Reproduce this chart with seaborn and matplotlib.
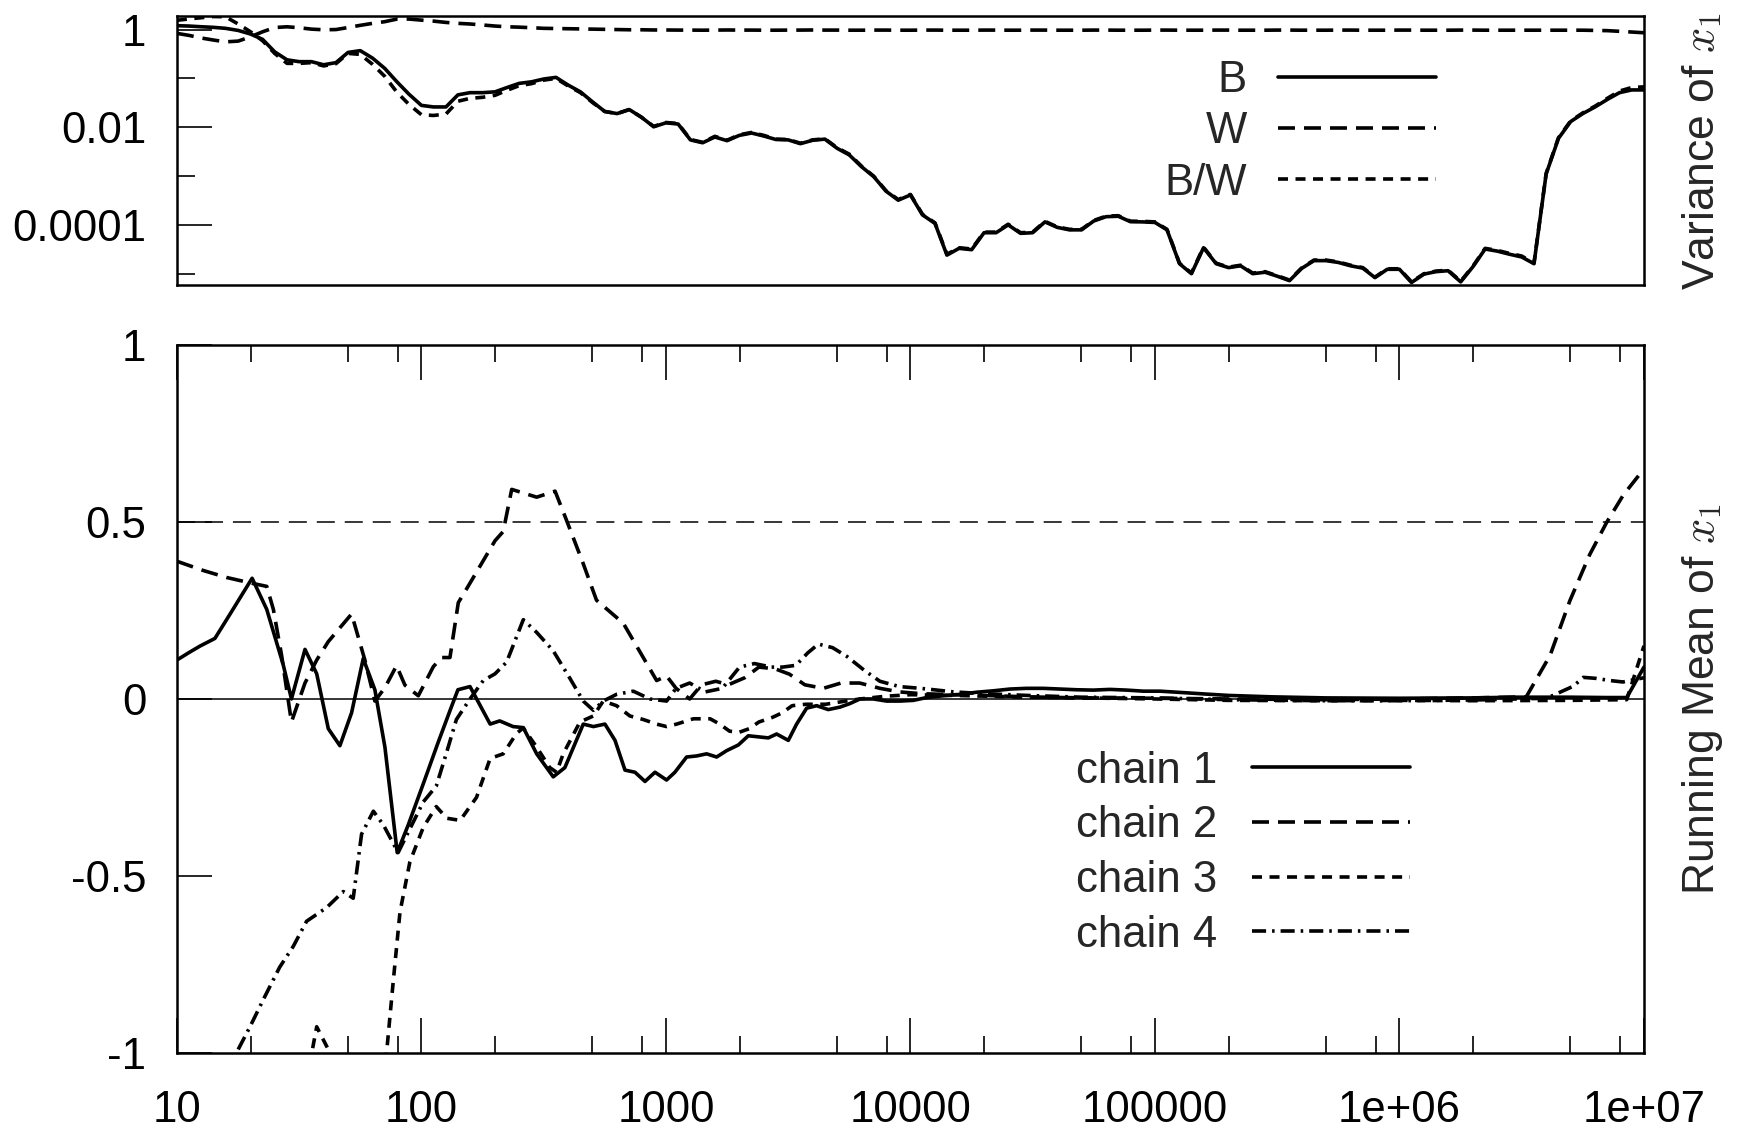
import matplotlib
matplotlib.use("Agg")
import matplotlib.pyplot as plt
import seaborn as sns
from matplotlib.ticker import LogLocator, NullFormatter

# sampling steps of the running statistics (20 per decade)
steps = [
    10, 11.2, 12.6, 14.1, 15.8, 17.8, 20.0, 22.4, 25.1, 28.2, 31.6, 35.5, 39.8, 44.7, 50.1, 56.2, 63.1, 70.8, 79.4, 89.1,
    100, 112, 126, 141, 158, 178, 200, 224, 251, 282, 316, 355, 398, 447, 501, 562, 631, 708, 794, 891,
    1000, 1122, 1259, 1413, 1585, 1778, 1995, 2239, 2512, 2818, 3162, 3548, 3981, 4467, 5012, 5623, 6310, 7079, 7943, 8913,
    1.00e4, 1.12e4, 1.26e4, 1.41e4, 1.58e4, 1.78e4, 2.00e4, 2.24e4, 2.51e4, 2.82e4,
    3.16e4, 3.55e4, 3.98e4, 4.47e4, 5.01e4, 5.62e4, 6.31e4, 7.08e4, 7.94e4, 8.91e4,
    1.00e5, 1.12e5, 1.26e5, 1.41e5, 1.58e5, 1.78e5, 2.00e5, 2.24e5, 2.51e5, 2.82e5,
    3.16e5, 3.55e5, 3.98e5, 4.47e5, 5.01e5, 5.62e5, 6.31e5, 7.08e5, 7.94e5, 8.91e5,
    1.00e6, 1.12e6, 1.26e6, 1.41e6, 1.58e6, 1.78e6, 2.00e6, 2.24e6, 2.51e6, 2.82e6,
    3.16e6, 3.55e6, 3.98e6, 4.47e6, 5.01e6, 5.62e6, 6.31e6, 7.08e6, 7.94e6, 8.91e6,
    1.00e7,
]

var_b = [
    1.2, 1.18, 1.14, 1.11, 1.06, 0.96, 0.81, 0.63, 0.35, 0.24, 0.22, 0.22, 0.19, 0.21, 0.34, 0.37, 0.26, 0.16, 0.085, 0.047,
    0.028, 0.026, 0.026, 0.046, 0.051, 0.051, 0.053, 0.065, 0.079, 0.085, 0.097, 0.105, 0.073, 0.053, 0.033, 0.021, 0.019, 0.023, 0.016, 0.0102,
    0.0123, 0.0116, 0.0055, 0.0048, 0.0063, 0.0053, 0.0068, 0.0076, 0.0066, 0.0056, 0.0055, 0.0046, 0.0054, 0.0057, 0.0037, 0.0027, 0.00155, 0.00097, 0.00049, 0.00032,
    4.1e-4, 1.6e-4, 1.07e-4, 2.4e-5, 3.3e-5, 3.1e-5, 6.9e-5, 6.9e-5, 1.0e-4, 6.7e-5, 6.9e-5, 1.15e-4, 8.9e-5, 7.9e-5, 7.9e-5, 1.2e-4, 1.47e-4, 1.5e-4, 1.16e-4, 1.15e-4,
    1.12e-4, 7.9e-5, 1.6e-5, 1.0e-5, 3.4e-5, 1.6e-5, 1.33e-5, 1.45e-5, 1.0e-5, 1.07e-5, 8.9e-6, 7.2e-6, 1.28e-5, 1.85e-5, 1.85e-5, 1.7e-5, 1.45e-5, 1.3e-5, 8.3e-6, 1.23e-5,
    1.23e-5, 6.6e-6, 9.8e-6, 1.1e-5, 1.15e-5, 6.8e-6, 1.4e-5, 3.2e-5, 2.9e-5, 2.5e-5, 2.2e-5, 1.6e-5, 1.1e-3, 5.9e-3, 0.013, 0.019, 0.026, 0.037, 0.051, 0.058,
    0.058,
]

var_w = [
    0.835, 0.76, 0.67, 0.61, 0.56, 0.58, 0.71, 0.90, 1.10, 1.14, 1.09, 1.02, 0.99, 1.0, 1.1, 1.22, 1.34, 1.45, 1.64, 1.64,
    1.56, 1.49, 1.40, 1.34, 1.30, 1.24, 1.18, 1.14, 1.12, 1.09, 1.06, 1.05, 1.04, 1.03, 1.02, 1.01, 1.0, 0.99, 0.99, 0.98,
    0.98, 0.975, 0.975, 0.97, 0.975, 0.98, 0.975, 0.975, 0.97, 0.97, 0.975, 0.975, 0.98, 0.975, 0.975, 0.97, 0.97, 0.975, 0.975, 0.97,
    0.97, 0.975, 0.975, 0.97, 0.97, 0.97, 0.975, 0.975, 0.97, 0.97, 0.975, 0.975, 0.97, 0.97, 0.97, 0.975, 0.975, 0.97, 0.97, 0.97,
    0.975, 0.975, 0.97, 0.97, 0.97, 0.975, 0.975, 0.97, 0.97, 0.97, 0.975, 0.975, 0.97, 0.97, 0.97, 0.975, 0.975, 0.97, 0.97, 0.97,
    0.975, 0.975, 0.97, 0.97, 0.97, 0.975, 0.975, 0.97, 0.97, 0.97, 0.97, 0.97, 0.97, 0.97, 0.97, 0.97, 0.96, 0.95, 0.92, 0.89,
    0.86,
]

var_bw = [
    1.55, 1.65, 1.75, 1.85, 1.83, 1.30, 0.90, 0.59, 0.325, 0.203, 0.203, 0.21, 0.18, 0.20, 0.325, 0.31, 0.194, 0.11, 0.052, 0.029,
    0.018, 0.0174, 0.0186, 0.034, 0.039, 0.041, 0.045, 0.057, 0.071, 0.078, 0.092, 0.1, 0.07, 0.051, 0.032, 0.021, 0.019, 0.023, 0.016, 0.0104,
    0.0125, 0.0119, 0.0056, 0.0049, 0.0065, 0.0054, 0.0070, 0.0078, 0.0068, 0.0057, 0.0056, 0.0047, 0.0055, 0.0058, 0.0038, 0.0028, 0.00159, 0.00099, 0.0005, 0.00033,
    4.2e-4, 1.64e-4, 1.1e-4, 2.5e-5, 3.4e-5, 3.2e-5, 7.1e-5, 7.1e-5, 1.03e-4, 6.9e-5, 7.1e-5, 1.18e-4, 9.1e-5, 8.1e-5, 8.1e-5, 1.23e-4, 1.51e-4, 1.54e-4, 1.19e-4, 1.18e-4,
    1.15e-4, 8.1e-5, 1.64e-5, 1.03e-5, 3.5e-5, 1.64e-5, 1.36e-5, 1.49e-5, 1.03e-5, 1.1e-5, 9.1e-6, 7.4e-6, 1.31e-5, 1.9e-5, 1.9e-5, 1.74e-5, 1.49e-5, 1.33e-5, 8.5e-6, 1.26e-5,
    1.26e-5, 6.8e-6, 1.0e-5, 1.13e-5, 1.18e-5, 7.0e-6, 1.44e-5, 3.3e-5, 3.0e-5, 2.6e-5, 2.3e-5, 1.65e-5, 1.13e-3, 6.1e-3, 0.0134, 0.0196, 0.027, 0.039, 0.055, 0.065,
    0.067,
]

chain1_x = [10.0, 11.2, 12.4, 14.3, 16.5, 20.3, 23.3, 27.2, 29.4, 33.4, 37.3, 41.6, 46.4, 51.8, 57.8, 64.5, 70.9, 79.6,
            88.3, 101.7, 117, 131, 141, 158, 191, 209, 237, 261, 296, 346, 386, 459, 505, 563, 619, 680, 747, 821, 902,
            1006, 1088, 1215, 1335, 1467, 1612, 1771, 1977, 2172, 2387, 2622, 2836, 3166, 3423, 3762, 4133, 4613, 5149,
            5656, 6215, 7047, 7991, 9060, 10270, 11650, 13620, 15940, 18650, 21820, 25530, 29870, 34940, 40880, 47830,
            55940, 65460, 76600, 89620, 104800, 1.3e5, 1.6e5, 2e5, 3e5, 5e5, 1e6, 2e6, 3e6, 5e6, 7e6, 8.5e6, 1e7]
chain1_y = [0.110, 0.131, 0.149, 0.171, 0.240, 0.341, 0.253, 0.097, 0.0, 0.140, 0.071, -0.084, -0.132, -0.039, 0.114,
            0.026, -0.136, -0.434, -0.356, -0.240, -0.123, -0.032, 0.026, 0.035, -0.071, -0.062, -0.078, -0.081, -0.155,
            -0.220, -0.194, -0.071, -0.078, -0.071, -0.117, -0.201, -0.207, -0.233, -0.207, -0.229, -0.207, -0.164,
            -0.161, -0.155, -0.164, -0.146, -0.130, -0.104, -0.107, -0.110, -0.099, -0.117, -0.071, -0.026, -0.019,
            -0.030, -0.023, -0.013, 0.0, 0.0, -0.006, -0.006, -0.004, 0.004, 0.009, 0.013, 0.019, 0.023, 0.028, 0.030,
            0.030, 0.028, 0.026, 0.025, 0.027, 0.025, 0.022, 0.022, 0.018, 0.014, 0.010, 0.006, 0.003, 0.002, 0.003,
            0.005, 0.005, 0.004, 0.004, 0.09]

chain2_x = [10.0, 12.8, 16.0, 19.9, 23.3, 24.8, 26.8, 29.4, 33.4, 37.3, 41.6, 46.4, 51.8, 58.7, 64.5, 70.9, 79.1, 85.6,
            97.1, 111.8, 120.9, 130.8, 141.5, 153, 200, 216, 234, 296, 352, 392, 459, 520, 669, 759, 916, 1006, 1100,
            1250, 1400, 1600, 1800, 2100, 2400, 2800, 3200, 3700, 4400, 5200, 6200, 7500, 9000, 11000, 15000, 20000,
            30000, 50000, 1e5, 2e5, 5e5, 1e6, 2e6, 3.3e6, 4.13e6, 4.98e6, 6.0e6, 7.04e6, 8.23e6, 1e7]
chain2_y = [0.389, 0.363, 0.343, 0.328, 0.318, 0.253, 0.123, -0.065, 0.045, 0.110, 0.162, 0.201, 0.240, 0.110, -0.006,
            0.032, 0.094, 0.039, 0.009, 0.091, 0.117, 0.117, 0.272, 0.311, 0.447, 0.473, 0.592, 0.570, 0.587, 0.505,
            0.382, 0.279, 0.214, 0.149, 0.052, 0.065, 0.03, 0.0, 0.04, 0.05, 0.04, 0.06, 0.09, 0.085, 0.07, 0.04, 0.03,
            0.045, 0.045, 0.03, 0.02, 0.015, 0.012, 0.01, 0.006, 0.003, 0.002, 0.0, -0.002, 0.0, 0.003, 0.006, 0.123,
            0.278, 0.408, 0.499, 0.576, 0.65]

chain3_x = [10, 15, 20, 25, 30, 35.6, 37.3, 42.3, 50, 58, 66, 72, 76.7, 81.7, 89.7, 101.7, 115, 127, 144, 168, 191, 216,
            245, 261, 296, 335, 357, 380, 445, 505, 554, 628, 712, 807, 916, 1006, 1106, 1295, 1516, 1659, 1820, 1996,
            2189, 2401, 2727, 2991, 3282, 3730, 4500, 5430, 6215, 8000, 1e4, 1.5e4, 2e4, 3e4, 5e4, 1e5, 2e5, 5e5, 1e6,
            2e6, 5e6, 8.5e6, 1e7]
chain3_y = [-3.0, -2.2, -1.7, -1.4, -1.15, -1.0, -0.926, -1.0, -1.35, -1.4, -1.2, -1.0, -0.797, -0.602, -0.460, -0.363,
            -0.304, -0.337, -0.343, -0.278, -0.168, -0.155, -0.097, -0.082, -0.136, -0.194, -0.207, -0.155, -0.065,
            -0.048, -0.006, -0.019, -0.048, -0.058, -0.071, -0.078, -0.071, -0.056, -0.056, -0.071, -0.091, -0.094,
            -0.084, -0.065, -0.052, -0.039, -0.019, -0.015, -0.015, -0.006, 0.0, 0.008, 0.012, 0.01, 0.008, 0.005,
            0.003, 0.0, -0.004, -0.005, -0.004, -0.005, -0.004, -0.002, 0.15]

chain4_x = [10, 14, 17.5, 19.9, 22.6, 26.3, 29.9, 33.9, 41, 47.9, 52.6, 56.9, 63.6, 69.9, 80.3, 101.7, 115, 127, 139,
            158, 179, 200, 223, 261, 296, 346, 405, 459, 505, 554, 628, 735, 860, 1006, 1100, 1250, 1450, 1700, 2000,
            2300, 2700, 3000, 3400, 3800, 4200, 4800, 5500, 6500, 7500, 9000, 1.1e4, 1.5e4, 2e4, 3e4, 5e4, 1e5, 2e5,
            5e5, 1e6, 2e6, 4e6, 5.14e6, 5.65e6, 6.4e6, 7.26e6, 8.2e6, 1e7]
chain4_y = [-1.6, -1.25, -1.0, -0.926, -0.848, -0.758, -0.699, -0.628, -0.589, -0.544, -0.563, -0.382, -0.317, -0.356,
            -0.434, -0.291, -0.246, -0.149, -0.058, 0.0, 0.052, 0.071, 0.104, 0.224, 0.188, 0.136, 0.058, -0.006,
            -0.032, -0.006, 0.013, 0.022, 0.0, -0.006, 0.03, 0.045, 0.02, 0.03, 0.09, 0.1, 0.09, 0.09, 0.095, 0.13,
            0.155, 0.145, 0.12, 0.08, 0.05, 0.035, 0.03, 0.02, 0.015, 0.01, 0.005, 0.003, -0.002, -0.005, -0.005,
            -0.003, 0.002, 0.036, 0.061, 0.058, 0.052, 0.048, 0.06]

x_ticks = [10, 100, 1000, 1e4, 1e5, 1e6, 1e7]
x_tick_labels = ["10", "100", "1000", "10000", "100000", "1e+06", "1e+07"]
var_ticks = [1e-4, 1e-2, 1]
var_tick_labels = ["0.0001", "0.01", "1"]
mean_ticks = [-1, -0.5, 0, 0.5, 1]
mean_tick_labels = ["-1", "-0.5", "0", "0.5", "1"]

sns.set_theme(style="ticks")
plt.rcParams["font.family"] = ["Liberation Sans", "DejaVu Sans"]
plt.rcParams["mathtext.fontset"] = "cm"
plt.rcParams["axes.edgecolor"] = "black"
plt.rcParams["axes.linewidth"] = 1.8
plt.rcParams["xtick.color"] = "black"
plt.rcParams["ytick.color"] = "black"

LW = 2.6
FS = 31.5
LONG_DASH = (0, (4.7, 2.5))
SHORT_DASH = (0, (2.77, 2.08))
DASH_DOT = (0, (3.9, 1.66, 0.7, 1.66))

fig = plt.figure(figsize=(17.38, 11.31), dpi=100)
ax_top = fig.add_axes([0.1018, 0.748, 0.8441, 0.2378])
ax_bot = fig.add_axes([0.1018, 0.069, 0.8441, 0.626])

# --- variance panel
ax_top.set_xscale("log")
ax_top.set_yscale("log")
sns.lineplot(x=steps, y=var_b, ax=ax_top, estimator=None, color="black", lw=LW, label="B")
sns.lineplot(x=steps, y=var_w, ax=ax_top, estimator=None, color="black", lw=LW,
             linestyle=LONG_DASH, label="W")
sns.lineplot(x=steps, y=var_bw, ax=ax_top, estimator=None, color="black", lw=LW,
             linestyle=SHORT_DASH, label="B/W")
ax_top.set_xlim(10, 1e7)
ax_top.set_ylim(5.86e-6, 1.89)
ax_top.tick_params(axis="x", which="both", bottom=False, top=False, labelbottom=False)
ax_top.set_yticks(var_ticks, labels=var_tick_labels)
ax_top.set_yticks([1e-5, 1e-3, 1e-1], minor=True)
ax_top.yaxis.set_minor_formatter(NullFormatter())
ax_top.tick_params(axis="y", which="major", direction="in", length=25, width=1.2,
                   labelsize=FS, pad=22, left=True, right=False)
ax_top.tick_params(axis="y", which="minor", direction="in", length=13, width=1.2, left=True, right=False)
ax_top.yaxis.set_label_position("right")
ax_top.set_ylabel(r"Variance of $x_1$", fontsize=32, labelpad=26)
ax_top.legend(loc="upper right", bbox_to_anchor=(0.858, 0.836), markerfirst=False, frameon=False,
              fontsize=FS, handlelength=3.6, handletextpad=0.72, labelspacing=0.235,
              borderaxespad=0, borderpad=0)

# --- running mean panel
ax_bot.set_xscale("log")
ax_bot.axhline(0, color="black", lw=1.1)
ax_bot.axhline(0.5, color="black", lw=1.1, linestyle=(0, (11.8, 6.5)))
sns.lineplot(x=chain1_x, y=chain1_y, ax=ax_bot, estimator=None, color="black", lw=LW, label="chain 1")
sns.lineplot(x=chain2_x, y=chain2_y, ax=ax_bot, estimator=None, color="black", lw=LW,
             linestyle=LONG_DASH, label="chain 2")
sns.lineplot(x=chain3_x, y=chain3_y, ax=ax_bot, estimator=None, color="black", lw=LW,
             linestyle=SHORT_DASH, label="chain 3")
sns.lineplot(x=chain4_x, y=chain4_y, ax=ax_bot, estimator=None, color="black", lw=LW,
             linestyle=DASH_DOT, label="chain 4")
ax_bot.set_xlim(10, 1e7)
ax_bot.set_ylim(-1, 1)
ax_bot.set_xticks(x_ticks, labels=x_tick_labels)
ax_bot.xaxis.set_minor_locator(LogLocator(base=10, subs=(2, 5, 8), numticks=20))
ax_bot.xaxis.set_minor_formatter(NullFormatter())
ax_bot.set_yticks(mean_ticks, labels=mean_tick_labels)
ax_bot.tick_params(axis="x", which="major", direction="in", length=25, width=1.2,
                   labelsize=FS, pad=27, top=True, bottom=True)
ax_bot.tick_params(axis="x", which="minor", direction="in", length=12, width=1.2, top=True, bottom=True)
ax_bot.tick_params(axis="y", which="major", direction="in", length=25, width=1.2,
                   labelsize=FS, pad=22, left=True, right=False)
ax_bot.yaxis.set_label_position("right")
ax_bot.set_ylabel(r"Running Mean of $x_1$", fontsize=32, labelpad=26)
ax_bot.legend(loc="upper right", bbox_to_anchor=(0.8405, 0.427), markerfirst=False, frameon=False,
              fontsize=FS, handlelength=3.6, handletextpad=0.8, labelspacing=0.313,
              borderaxespad=0, borderpad=0)

fig.savefig("out.png", dpi=100)
